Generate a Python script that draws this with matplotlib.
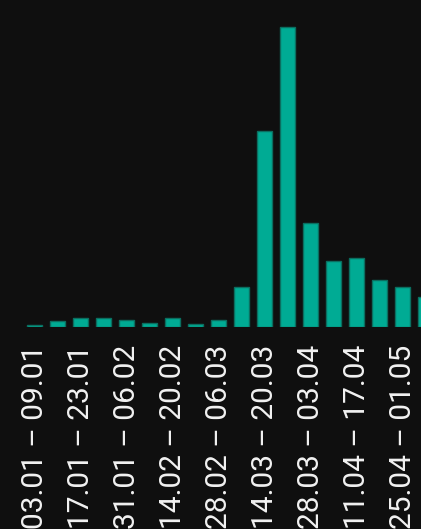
import matplotlib
matplotlib.use("Agg")
import matplotlib.pyplot as plt

weeks = ["03.01 – 09.01", "10.01 – 16.01", "17.01 – 23.01", "24.01 – 30.01",
         "31.01 – 06.02", "07.02 – 13.02", "14.02 – 20.02", "21.02 – 27.02",
         "28.02 – 06.03", "07.03 – 13.03", "14.03 – 20.03", "21.03 – 27.03",
         "28.03 – 03.04", "04.04 – 10.04", "11.04 – 17.04", "18.04 – 24.04",
         "25.04 – 01.05", "02.05 – 08.05"]
values = [2.3, 6.3, 9.7, 9.0, 7.7, 4.3, 9.7, 3.7, 7.7, 40.0,
          196.3, 300.3, 104.3, 66.7, 69.3, 47.0, 40.3, 30.3]

bg = "#0f0f0f"
fig = plt.figure(figsize=(4.21, 5.29), dpi=100, facecolor=bg)
ax = fig.add_axes([0, 1 - 327.3 / 529, 1, 327.3 / 529])
ax.set_facecolor(bg)

x = list(range(len(values)))
ax.bar(x, values, width=0.65, color="#00ab94", edgecolor="#0b6e60", linewidth=1.0, zorder=2)

ax.set_xlim(-1.52, 16.79)
ax.set_ylim(0, 327.3)

tick_idx = x[::2]
ax.set_xticks(tick_idx)
ax.set_xticklabels([weeks[i] for i in tick_idx], rotation=90, ha="center", va="top",
                   fontsize=21.5, color="#f2f2f2", family=["Roboto", "DejaVu Sans"])
ax.tick_params(axis="x", length=0, pad=12.8)
ax.set_yticks([])
for s in ax.spines.values():
    s.set_visible(False)

fig.savefig("out.png", dpi=100, facecolor=bg)
